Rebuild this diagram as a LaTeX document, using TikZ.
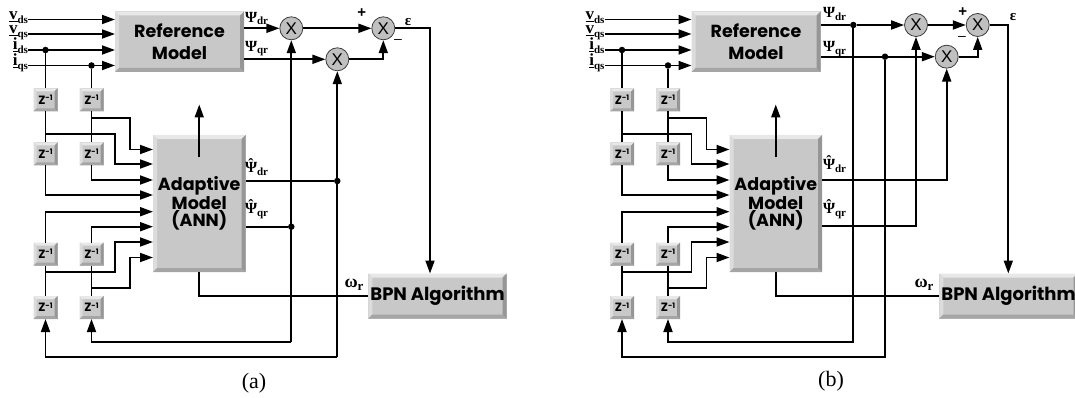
\documentclass[tikz,border=0pt]{standalone}
\usepackage{fontspec}
\setmainfont{Liberation Serif}
\newfontfamily\boxfont{Poppins}
\newfontfamily\sansf{Liberation Sans}
\usetikzlibrary{arrows.meta}
\definecolor{face}{RGB}{200,200,200}
\definecolor{bvtop}{RGB}{232,232,232}
\definecolor{bvleft}{RGB}{220,220,220}
\definecolor{bvbot}{RGB}{165,165,165}
\definecolor{bvright}{RGB}{150,150,150}
\definecolor{multfill}{RGB}{192,192,192}
\definecolor{multline}{RGB}{60,60,60}
\newcommand\boxtxt{\boxfont\bfseries\fontsize{17.5}{15}\selectfont}
\newcommand\psil[2]{{\bfseries\fontsize{15.5}{15}\selectfont #1\raisebox{-2.5pt}{\fontsize{11}{11}\selectfont #2}}}
\newcommand\psihat{\ooalign{Ψ\cr\hidewidth\raisebox{3.5pt}{ˆ}\hidewidth\cr}}
\newcommand\inlab[2]{{\bfseries\fontsize{17}{15}\selectfont\underline{#1}\raisebox{-4pt}{\fontsize{11}{11}\selectfont #2}}}
\newcommand\zinv{{\boxfont\bfseries\fontsize{12}{12}\selectfont Z\raisebox{3.5pt}{\fontsize{7.5}{7.5}\selectfont -1}}}
\tikzset{
  bevel/.style={fill=face, draw=none, inner sep=0pt, outer sep=0pt,
    path picture={
      \fill[bvtop] (path picture bounding box.north west) -- (path picture bounding box.north east)
        -- ([xshift=-#1,yshift=-#1]path picture bounding box.north east)
        -- ([xshift=#1,yshift=-#1]path picture bounding box.north west) -- cycle;
      \fill[bvleft] (path picture bounding box.north west) -- ([xshift=#1,yshift=-#1]path picture bounding box.north west)
        -- ([xshift=#1,yshift=#1]path picture bounding box.south west) -- (path picture bounding box.south west) -- cycle;
      \fill[bvbot] (path picture bounding box.south west) -- ([xshift=#1,yshift=#1]path picture bounding box.south west)
        -- ([xshift=-#1,yshift=#1]path picture bounding box.south east) -- (path picture bounding box.south east) -- cycle;
      \fill[bvright] (path picture bounding box.north east) -- (path picture bounding box.south east)
        -- ([xshift=-#1,yshift=#1]path picture bounding box.south east)
        -- ([xshift=-#1,yshift=-#1]path picture bounding box.north east) -- cycle;
    }},
  bigbox/.style={bevel=4pt, font=\boxtxt, align=center},
  zbox/.style={bevel=3pt, minimum width=24pt, minimum height=23pt},
  bpnbox/.style={bevel=4pt, font=\boxfont\bfseries\fontsize{18}{18}\selectfont, minimum width=138.4pt, minimum height=45pt},
  wire/.style={line width=1.8pt},
  arr/.style={wire, -{Triangle[length=13pt,width=9pt]}},
  dot/.style={circle, fill=black, inner sep=0pt, minimum size=6.5pt},
  mult/.style={circle, fill=multfill, draw=multline, line width=0.8pt, minimum size=23pt, inner sep=0pt,
    font=\sansf\fontsize{17}{17}\selectfont},
  inl/.style={anchor=base east, inner sep=0pt, outer sep=0pt},
  lbl/.style={inner sep=0pt, outer sep=0pt},
}
\newcommand\leftpart[2]{%
\begin{scope}[xshift=#2pt]
  \node[bigbox, minimum width=129pt, minimum height=60.5pt] (#1ref) at (179.5,41.75) {Reference\\[7.5pt]Model};
  \node[bigbox, minimum width=92.5pt, minimum height=137pt] (#1ada) at (199.25,203.5) {Adaptive\\Model\\(ANN)};
  \foreach \c/\x in {1/45.5,2/91.5}{
    \foreach \r/\y in {1/100,2/154,3/254,4/307.5}{
      \node[zbox] (#1z\c\r) at (\x,\y) {\zinv};
    }}
  \node[inl] (#1l1) at (28,19.5) {\inlab{v}{ds}};
  \node[inl] (#1l2) at (28,34) {\inlab{v}{qs}};
  \node[inl] (#1l3) at (28,50) {\inlab{i}{ds}};
  \node[inl] (#1l4) at (28,65.5) {\inlab{i}{qs}};
  \draw[arr] (#1l1.base east) -- (#1l1.base east -| #1ref.west);
  \draw[arr] (#1l2.base east) -- (#1l2.base east -| #1ref.west);
  \draw[arr] (#1l3.base east) -- (#1l3.base east -| #1ref.west);
  \draw[arr] (#1l4.base east) -- (#1l4.base east -| #1ref.west);
  \node[dot] (#1d3) at (45.5,50) {};
  \node[dot] (#1d4) at (91.5,65.5) {};
  % column 1, upper
  \draw[wire] (#1d3) -- (#1z11);
  \draw[wire] (#1z11) -- (#1z12);
  \draw[arr] (#1z12) |- (#1ada.west |- 0,195);
  \draw[arr] (45.5,134) -| (115,164) -- (#1ada.west |- 0,164);
  % column 2, upper
  \draw[wire] (#1d4) -- (#1z21);
  \draw[wire] (#1z21) -- (#1z22);
  \draw[arr] (#1z22) |- (#1ada.west |- 0,180);
  \draw[arr] (91.5,118.3) -| (130,149.5) -- (#1ada.west |- 0,149.5);
  % column 1, lower
  \draw[arr] (#1z13) |- (#1ada.west |- 0,211.7);
  \draw[wire] (#1z13) -- (#1z14);
  \draw[arr] (45.5,272) -| (115,242) -- (#1ada.west |- 0,242);
  % column 2, lower
  \draw[arr] (#1z23) |- (#1ada.west |- 0,226.7);
  \draw[wire] (#1z23) -- (#1z24);
  \draw[arr] (91.5,288.3) -| (130,257.5) -- (#1ada.west |- 0,257.5);
  % weight update arrow
  \draw[arr] (199.25,157.5) -- (199.25,104.5);
\end{scope}}
\begin{document}
\begin{tikzpicture}[x=1pt,y=-1pt]
\useasboundingbox (0,0) rectangle (1075,398);
% ================= panel (a) =================
\leftpart{a}{0}
\node[mult] (am1) at (291.3,28.3) {X};
\node[mult] (am2) at (337.3,59.3) {X};
\node[mult] (am3) at (383.3,28.3) {X};
\node[bpnbox] (abpn) at (437.5,296) {BPN Algorithm};
\draw[arr] (aref.east |- am1) -- (am1);
\draw[arr] (aref.east |- am2) -- (am2);
\draw[arr] (am1) -- (am3);
\draw[arr] (am2) -| (am3);
\coordinate (aeps) at (430,28.3);
\draw[arr] (am3) -- (aeps) -- (aeps |- abpn.north);
\node[dot] (adh1) at (337.3,181) {};
\node[dot] (adh2) at (291.3,226.7) {};
\draw[wire] (aada.east |- adh1) -- (adh1);
\draw[wire] (aada.east |- adh2) -- (adh2);
\coordinate (ab1) at (337.3,356.7);
\coordinate (ab2) at (291.3,341.7);
\draw[arr] (ab1) -- (am2);
\draw[arr] (ab2) -- (am1);
\draw[arr] (ab1) -| (az14);
\draw[arr] (ab2) -| (az24);
\draw[wire] (aada.south) |- (abpn.west);
\node[lbl, anchor=west] (apdr) at (245,18.5) {\psil{Ψ}{dr}};
\node[lbl, anchor=west] (apqr) at (245,48.5) {\psil{Ψ}{qr}};
\node[lbl, anchor=west] (ahdr) at (245,169) {\psil{\psihat}{dr}};
\node[lbl, anchor=west] (ahqr) at (245,211) {\psil{\psihat}{qr}};
\node[lbl, font=\sansf\bfseries\fontsize{15}{15}\selectfont] (aplus) at (361.7,13.3) {+};
\node[lbl, font=\sansf\fontsize{14}{14}\selectfont] (aminus) at (398,41.7) {–};
\node[lbl, font=\bfseries\fontsize{15}{15}\selectfont] (aeplab) at (408,21.7) {ε};
\node[lbl] (aom) at (354,285) {\psil{\fontsize{18}{18}\selectfont ω}{\fontsize{13}{13}\selectfont r}};
\node[lbl, font=\fontsize{22}{22}\selectfont] (acap) at (254,383) {(a)};
% ================= panel (b) =================
\leftpart{b}{576.5}
\node[mult] (bm1) at (916,25) {X};
\node[mult] (bm2) at (946.7,56.7) {X};
\node[mult] (bm3) at (977.7,25) {X};
\node[bpnbox] (bbpn) at (1008.5,296) {BPN Algorithm};
\node[dot] (bd1) at (853.3,25) {};
\node[dot] (bd2) at (885,56.7) {};
\draw[wire] (bref.east |- bd1) -- (bd1);
\draw[arr] (bd1) -- (bm1);
\draw[wire] (bref.east |- bd2) -- (bd2);
\draw[arr] (bd2) -- (bm2);
\draw[arr] (bm1) -- (bm3);
\draw[arr] (bm2) -| (bm3);
\coordinate (beps) at (1008.3,25);
\draw[arr] (bm3) -- (beps) -- (beps |- bbpn.north);
\draw[arr] (bada.east |- 0,180) -| (bm2);
\draw[arr] (bada.east |- 0,226) -| (bm1);
\coordinate (bb1) at (853.3,341.7);
\coordinate (bb2) at (885,356.7);
\draw[arr] (bd1) -- (bb1) -| (bz24);
\draw[arr] (bd2) -- (bb2) -| (bz14);
\draw[wire] (bada.south) |- (bbpn.west);
\node[lbl, anchor=west] (bpdr) at (823,14) {\psil{Ψ}{dr}};
\node[lbl, anchor=west] (bpqr) at (823,49.3) {\psil{Ψ}{qr}};
\node[lbl, anchor=west] (bhdr) at (823,166) {\psil{\psihat}{dr}};
\node[lbl, anchor=west] (bhqr) at (823,211) {\psil{\psihat}{qr}};
\node[lbl, font=\sansf\bfseries\fontsize{15}{15}\selectfont] (bplus) at (962.7,11.7) {+};
\node[lbl, font=\sansf\fontsize{14}{14}\selectfont] (bminus) at (962,38.3) {–};
\node[lbl, font=\bfseries\fontsize{15}{15}\selectfont] (beplab) at (1013,16.7) {ε};
\node[lbl] (bom) at (924,285) {\psil{\fontsize{18}{18}\selectfont ω}{\fontsize{13}{13}\selectfont r}};
\node[lbl, font=\fontsize{22}{22}\selectfont] (bcap) at (831,381) {(b)};
\end{tikzpicture}
\end{document}
